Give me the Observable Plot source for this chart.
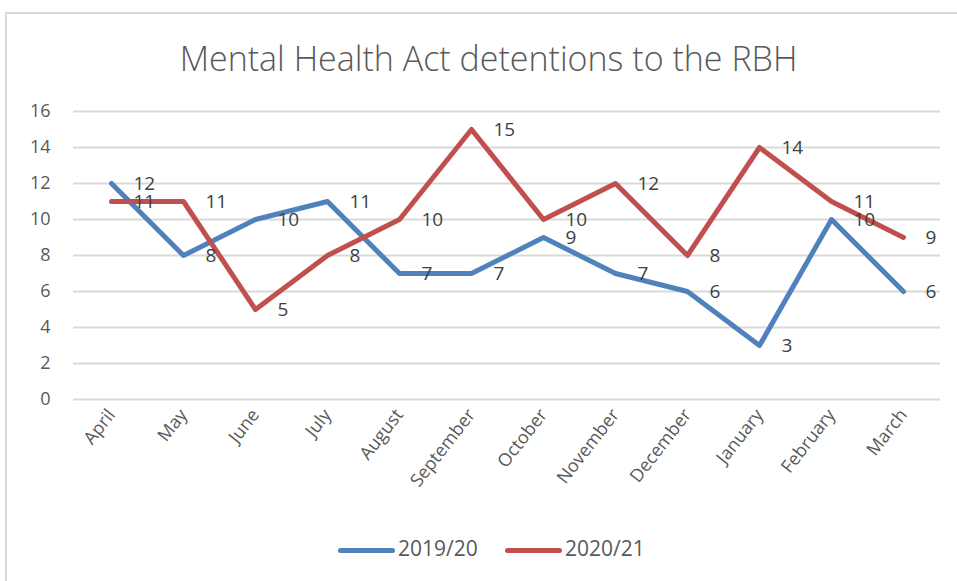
<!DOCTYPE html>
<html><head><meta charset="utf-8">
<script src="https://cdn.jsdelivr.net/npm/d3@7"></script>
<script src="https://cdn.jsdelivr.net/npm/@observablehq/plot@0.6"></script>
<style>
body{margin:0;background:#fff;font-family:"Open Sans",sans-serif;}
#wrap{position:relative;width:957px;height:581px;overflow:hidden;background:#fff}
#frame{position:absolute;left:5px;top:12px;width:1000px;height:700px;border:2px solid #d9d9d9;box-sizing:border-box}
#title{position:absolute;top:34px;left:0;width:977px;text-align:center;font-size:34px;color:#595959;font-weight:300;line-height:48px;white-space:nowrap}
#chart{position:absolute;left:0;top:0}
.leg{position:absolute;top:533px;font-size:21px;color:#595959;line-height:30px;white-space:nowrap}
.sw{display:inline-block;vertical-align:middle;width:57px;height:5px;border-radius:3px;margin-right:3px}
</style></head>
<body><div id="wrap"><div id="frame"></div><div id="title">Mental Health Act detentions to the RBH</div><div id="chart"></div>
<div class="leg" style="left:338px"><span class="sw" style="background:#4f81bd"></span>2019/20</div>
<div class="leg" style="left:505px"><span class="sw" style="background:#c0504d"></span>2020/21</div>
</div>
<script>
const months = ["April","May","June","July","August","September","October","November","December","January","February","March"];
const fy1920 = [12,8,10,11,7,7,9,7,6,3,10,6];
const fy2021 = [11,11,5,8,10,15,10,12,8,14,11,9];
const seriesNames = ["2019/20","2020/21"];
const seriesColors = ["#4f81bd","#c0504d"];
const yTicks = [0,2,4,6,8,10,12,14,16];

const data = [];
months.forEach((m,i)=>{
  data.push({month:m, series:seriesNames[0], value:fy1920[i]});
});
months.forEach((m,i)=>{
  data.push({month:m, series:seriesNames[1], value:fy2021[i]});
});

const chart = Plot.plot({
  width:957, height:520,
  marginLeft:73, marginRight:17, marginTop:111, marginBottom:121,
  x:{type:"point", domain:months, label:null},
  y:{domain:[0,16], label:null},
  color:{domain:seriesNames, range:seriesColors},
  style:{fontFamily:"Open Sans, sans-serif", fontSize:"18px", color:"#595959", background:"transparent", overflow:"visible"},
  marks:[
    Plot.ruleY(yTicks,{stroke:"#d9d9d9", strokeWidth:2}),
    Plot.axisY({ticks:yTicks, tickSize:0, tickPadding:23, fontSize:18, fill:"#595959", label:null}),
    Plot.axisX({tickSize:0, tickRotate:-52, tickPadding:12, fontSize:18, fill:"#595959", label:null}),
    Plot.line(data,{x:"month", y:"value", stroke:"series", strokeWidth:5, strokeLinejoin:"round", strokeLinecap:"round"}),
    Plot.text(data,{x:"month", y:"value", text:"value", textAnchor:"start", dx:22, fill:"#404040", fontSize:19})
  ]
});
document.getElementById("chart").appendChild(chart);
</script>
</body></html>
